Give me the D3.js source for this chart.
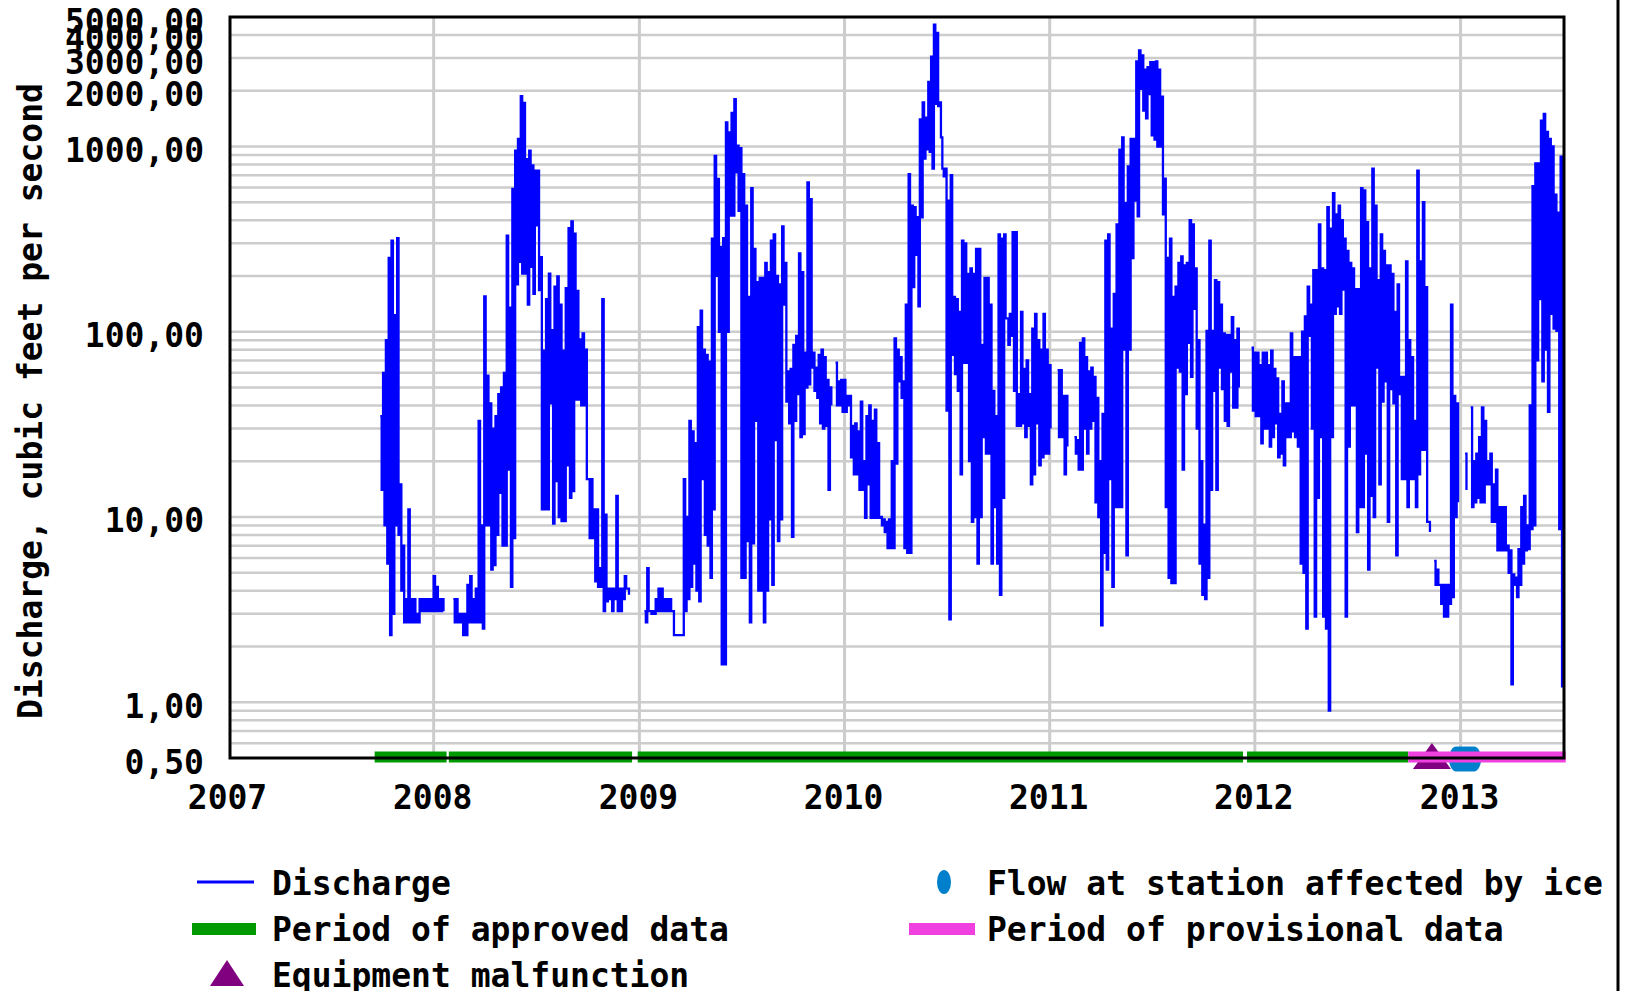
<!DOCTYPE html>
<html><head><meta charset="utf-8">
<script src="https://cdn.jsdelivr.net/npm/d3@7"></script>
<style>
html,body{margin:0;padding:0;background:#fff;}
svg{display:block;}
text{font-family:"DejaVu Sans Mono",monospace;font-weight:bold;font-size:33px;fill:#000;}
</style></head><body>
<svg id="chart" width="1626" height="991"></svg>
<script>
// ---- data ----
const startDate = "2007-09-28";
const stepDays = 5;
// per 5-day step: highest and lowest daily discharge (cfs), null = no data
const dischargeHigh = [
35,60,90,250,310,123,320,15,7,3.6,
11,3.6,3.6,3.0,3.6,3.6,3.6,3.6,3.6,4.8,
4.2,3.6,3.6,null,null,null,3.6,3.6,3.0,3.0,
3.0,4.3,4.8,3.6,4.1,33,9,155,58,41,
30,35,46,50,60,330,135,590,950,1100,
1870,1720,855,950,790,740,740,253,79,150,
206,102,175,199,140,79,172,362,394,338,
166,91,98,80,16,16,11,11,5.3,150,
10.3,4.1,4.1,4.1,13,4.1,4.1,4.8,4.1,null,
null,null,null,null,3.1,5.3,3.1,3.1,3.6,4.1,
4.1,3.6,3.6,3.6,3.1,2.3,2.3,2.3,16,10,
33,29,25,106,130,80,75,69,318,890,
668,287,320,1350,1190,1520,1800,1010,980,710,
480,154,595,280,185,195,195,235,210,310,
335,200,180,370,235,61,63,85,95,265,
210,77,640,520,77,64,75,80,73,55,
50,null,68,54,55,55,45,45,31,32,
29,42,20,35,40,33,38,25,10,9.7,
9.4,9.7,20,92,80,73,54,140,710,480,
470,415,1400,1730,1430,2230,3050,4550,4100,1730,
760,760,510,700,154,150,128,310,300,205,
220,205,280,280,85,195,195,140,48,35,
335,318,335,118,125,345,345,46,128,63,
70,46,104,125,90,80,125,80,66,null,
null,62,62,45,45,null,null,27,26,87,
92,73,61,64,57,44,20,36,310,335,
104,160,380,960,1120,495,780,1100,1100,2880,
3300,3100,2600,2680,2850,2850,2880,2600,1860,670,
250,318,154,175,235,255,228,235,400,380,
220,90,20,9.1,101,310,101,190,185,140,
98,96,96,120,90,104,null,null,null,null,
82,77,77,66,77,77,66,79,63,56,
36,54,41,41,98,73,73,73,100,121,
175,140,215,215,380,220,215,470,360,560,
430,480,400,318,273,235,220,170,170,595,
580,390,220,760,480,190,335,273,228,228,
205,128,180,57,57,240,90,73,33,740,
240,500,174,9.4,null,5.8,5.2,4.3,4.3,4.3,
4.3,140,45,41,null,null,22,null,39,20,
22,27,39,33,20,22,15,18,11.3,11.3,
11.3,7,6.6,4.9,4.7,6.7,11.3,13,9,40,
610,810,810,1380,1500,1200,1100,1000,550,440,
880
];
const dischargeLow = [
14,9,5.6,2.3,3.0,9,8,4,2.7,2.7,
2.7,2.7,2.7,2.7,3.1,3.1,3.1,3.1,3.1,3.1,
3.1,3.1,3.1,null,null,null,2.7,2.7,2.7,2.3,
2.3,2.7,2.7,2.7,2.7,2.7,2.5,9,9,5.2,
5.5,8,13.5,7,7,18,4.2,7.7,180,238,
206,206,140,224,160,375,168,11,11,11,
41,9.2,15.6,10,9.5,9.5,19,12.7,13.8,43,
43,40,40,16,7.7,7.7,4.5,4.2,4.2,3.1,
3.5,3.6,3.1,3.6,3.1,3.1,3.6,4.1,3.8,null,
null,null,null,null,2.7,3.1,3.0,3.0,3.1,3.1,
3.1,3.1,3.1,3.1,2.3,2.3,2.3,2.3,3.1,3.6,
4.2,5.6,4,3.5,16,8,7,4.7,11,200,
100,1.6,1.6,100,424,424,725,450,4.7,4.7,
7.4,2.7,7.2,33,4,4,2.7,4,9.7,4.3,
26,7.4,9.7,140,42,32,7.8,33,46,27,
28,50,52,64,48,44,32,30,31,14,
40,null,40,40,37,37,40,21,17,17,
14,14,9.9,15,9.9,9.9,9.9,9.9,9,8.3,
6.8,6.8,6.8,19.4,54,44,6.8,6.4,6.4,174,
260,137,415,860,965,935,760,1700,1650,1120,
690,37.5,2.8,75,59,48,17,68,68,20,
9.4,10,5.6,10,27,22,22,5.6,11.3,5.6,
3.8,12.7,118,85,95,48,31,31,32,27,
31,15,17,32,19,21,22,22,30,null,
null,27,27,17,24,null,null,22,18,18,
30,22,30,33,12,10,2.6,6.4,5.2,16,
4.2,11.3,11.3,11.3,80,6.2,80,250,510,420,
2050,1560,1420,1920,1150,1090,1000,1000,430,11.3,
4.7,4.4,4.4,64,61,18,46,87,57,133,
30,5.6,3.8,3.6,4.7,14,48,14,64,49,
33,31,61,39,39,50,null,null,null,null,
37.5,35,35,25,30,30,24,27,32,21,
22,19,27,27,29,27,24,5.6,5,2.5,
95,30,2.9,12.7,27,2.9,2.5,0.9,27,125,
137,125,169,2.9,24,40,40,8.3,11.3,11.3,
22,5.2,13,10,64,15,42,54,9.4,49,
41,6.2,46,16,16,11.3,16,16,11.3,17,
23,23,9.4,8.3,null,4.3,4.3,3.4,2.9,2.9,
3.4,3.7,10,12,null,null,14,null,11.3,12,
12.7,12,12,15,15,9.4,9.4,6.6,6.6,6.6,
6.6,5,1.25,4.3,3.7,4.3,5.6,6.6,6.7,8.6,
9,70,150,54,80,37,125,104,101,8.6,
1.2
];
const yearTicks = ["2007","2008","2009","2010","2011","2012","2013"];
const yTickValues = [0.5, 1, 10, 100, 1000, 2000, 3000, 4000, 5000];
const gridValues = [0.6,0.7,0.8,0.9,1,2,3,4,5,6,7,8,9,10,20,30,40,50,60,70,80,90,
                    100,200,300,400,500,600,700,800,900,1000,2000,3000,4000];
const approvedPeriods = [["2007-09-18","2008-01-24"],["2008-01-28","2008-12-19"],
                         ["2008-12-29","2011-12-11"],["2011-12-18","2012-09-30"]];
const provisionalPeriods = [["2012-09-30","2013-07-07"]];
const equipmentDates = ["2012-11-11"];
const iceDates = ["2012-12-24","2012-12-28","2013-01-01","2013-01-05","2013-01-09",
                  "2013-01-13","2013-01-17","2013-01-21","2013-01-25"];
const yTitle = "Discharge, cubic feet per second";
const legendLabels = ["Discharge","Period of approved data","Equipment malfunction",
                      "Flow at station affected by ice","Period of provisional data"];

// ---- setup ----
const svg = d3.select("#chart");
const parse = d3.utcParse("%Y-%m-%d");
const L = 230, R = 1564, T = 17, B = 758;
const x = d3.scaleUtc().domain([parse("2007-01-01"), parse("2013-07-04")]).range([228.5, R]);
const y = d3.scaleLog().domain([0.5, 5000]).range([B, T]);
const BLUE = "#0000ff", GREEN = "#009900", PINK = "#f040e0", PURPLE = "#800080", ICE = "#0080cc", GRID = "#cccccc";

// grid
svg.append("g").selectAll("line").data(gridValues).join("line")
  .attr("x1", L).attr("x2", R).attr("y1", d => y(d)).attr("y2", d => y(d))
  .attr("stroke", GRID).attr("stroke-width", 2.5);
svg.append("g").selectAll("line").data(yearTicks.slice(1)).join("line")
  .attr("x1", d => x(parse(d + "-01-01"))).attr("x2", d => x(parse(d + "-01-01")))
  .attr("y1", T).attr("y2", B).attr("stroke", GRID).attr("stroke-width", 3);

// discharge series
const t0 = parse(startDate);
const pts = [];
dischargeHigh.forEach((h, i) => {
  const d = d3.utcDay.offset(t0, i * stepDays);
  pts.push({t: d, v: h});
  pts.push({t: d3.utcHour.offset(d, 60), v: dischargeLow[i]});
});
const line = d3.line().defined(d => d.v != null).x(d => x(d.t)).y(d => y(d.v)).curve(d3.curveStepAfter);
svg.append("path").datum(pts).attr("d", line).attr("fill", "none")
  .attr("stroke", BLUE).attr("stroke-width", 2.3).attr("stroke-linejoin", "miter");

// markers
const tri = (cx, cy, w, h) => `M${cx},${cy - h/2}L${cx + w/2},${cy + h/2}L${cx - w/2},${cy + h/2}Z`;
svg.append("g").selectAll("path").data(equipmentDates).join("path")
  .attr("d", d => tri(x(parse(d)), y(0.5) - 2, 38, 26)).attr("fill", PURPLE);
svg.append("g").selectAll("ellipse").data(iceDates).join("ellipse")
  .attr("cx", d => x(parse(d))).attr("cy", y(0.5) + 1).attr("rx", 7).attr("ry", 12.5).attr("fill", ICE);

// period bars
svg.append("g").selectAll("line").data(approvedPeriods).join("line")
  .attr("x1", d => x(parse(d[0]))).attr("x2", d => x(parse(d[1])))
  .attr("y1", y(0.5) - 1).attr("y2", y(0.5) - 1).attr("stroke", GREEN).attr("stroke-width", 11);
svg.append("g").selectAll("line").data(provisionalPeriods).join("line")
  .attr("x1", d => x(parse(d[0]))).attr("x2", d => x(parse(d[1])))
  .attr("y1", y(0.5) - 1).attr("y2", y(0.5) - 1).attr("stroke", PINK).attr("stroke-width", 11);

// frame
svg.append("rect").attr("x", L).attr("y", T).attr("width", R - L).attr("height", B - T)
  .attr("fill", "none").attr("stroke", "#000").attr("stroke-width", 3);

// axes
const fmt = d3.formatLocale({decimal: ",", thousands: ".", grouping: [3], currency: ["", ""]}).format(".2f");
const gy = svg.append("g").attr("transform", `translate(${L},0)`)
  .call(d3.axisLeft(y).tickValues(yTickValues).tickFormat(fmt).tickSize(0).tickPadding(26));
gy.select(".domain").remove();
gy.selectAll("text").attr("dy", 15);
const gx = svg.append("g").attr("transform", `translate(0,${B})`)
  .call(d3.axisBottom(x).tickValues(yearTicks.map(s => parse(s + "-01-01")))
    .tickFormat(d3.utcFormat("%Y")).tickSize(0));
gx.select(".domain").remove();
gx.selectAll("text").attr("y", 51).attr("dy", 0).attr("x", -1.5);

svg.append("text").attr("transform", "translate(42,401) rotate(-90)")
  .attr("text-anchor", "middle").text(yTitle);

// legend
const lg = svg.append("g");
lg.append("line").attr("x1", 197).attr("x2", 254).attr("y1", 882).attr("y2", 882)
  .attr("stroke", BLUE).attr("stroke-width", 3);
lg.append("line").attr("x1", 192).attr("x2", 256).attr("y1", 929).attr("y2", 929)
  .attr("stroke", GREEN).attr("stroke-width", 12);
lg.append("path").attr("d", tri(227, 973, 34, 26)).attr("fill", PURPLE);
lg.append("ellipse").attr("cx", 944).attr("cy", 882).attr("rx", 7).attr("ry", 12).attr("fill", ICE);
lg.append("line").attr("x1", 909).attr("x2", 975).attr("y1", 929).attr("y2", 929)
  .attr("stroke", PINK).attr("stroke-width", 12);
const lpos = [[272, 895], [272, 941], [272, 987], [987, 895], [987, 941]];
legendLabels.forEach((s, i) => lg.append("text").attr("x", lpos[i][0]).attr("y", lpos[i][1]).text(s));

// right edge rule
svg.append("line").attr("x1", 1618).attr("x2", 1618).attr("y1", 0).attr("y2", 991)
  .attr("stroke", "#000").attr("stroke-width", 3);
</script>
</body></html>
